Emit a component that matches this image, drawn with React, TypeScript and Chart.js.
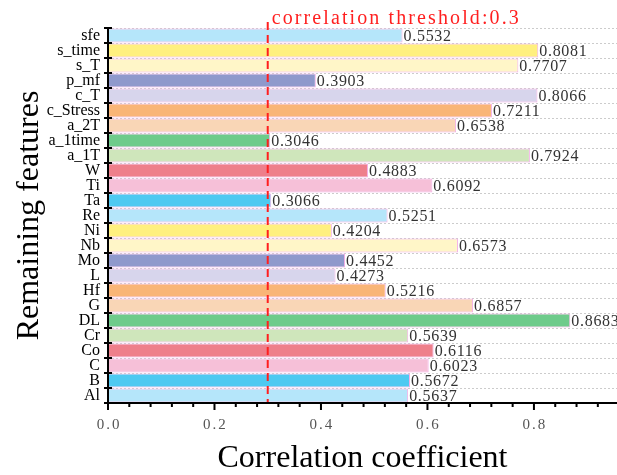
import React, { useEffect, useRef } from "react";
import { Chart, registerables } from "chart.js";

Chart.register(...registerables);

const FEATURES = [
  "sfe", "s_time", "s_T", "p_mf", "c_T", "c_Stress", "a_2T", "a_1time", "a_1T",
  "W", "Ti", "Ta", "Re", "Ni", "Nb", "Mo", "L", "Hf", "G", "DL", "Cr", "Co", "C", "B", "Al",
];
const CORRELATIONS = [
  0.5532, 0.8081, 0.7707, 0.3903, 0.8066, 0.7211, 0.6538, 0.3046, 0.7924,
  0.4883, 0.6092, 0.3066, 0.5251, 0.4204, 0.6573, 0.4452, 0.4273, 0.5216, 0.6857, 0.8683,
  0.5639, 0.6116, 0.6023, 0.5672, 0.5637,
];
const BAR_COLORS = [
  "#b5e6fa", "#fff07f", "#fff6c8", "#8f99cc", "#d7d5ec", "#f9b577", "#f9d6b6", "#6ecb8b", "#cfe6bb",
  "#ee7f8b", "#f6c0d8", "#4ec9f1", "#b5e6fa", "#fff07f", "#fff6c8", "#8f99cc", "#d7d5ec", "#f9b577",
  "#f9d6b6", "#6ecb8b", "#cfe6bb", "#ee7f8b", "#f6c0d8", "#4ec9f1", "#b5e6fa",
];
const X_TICKS = [0, 0.2, 0.4, 0.6, 0.8];
const X_MINOR_STEP = 0.04;
const THRESHOLD = 0.3;
const THRESHOLD_TEXT = "correlation threshold:0.3";
const X_MAX = 0.956;

function drawText(
  ctx: CanvasRenderingContext2D,
  text: string,
  x: number,
  y: number,
  size: number,
  spacing: number,
  align: CanvasTextAlign,
  color: string
) {
  ctx.save();
  ctx.font = `${size}px "Liberation Serif"`;
  (ctx as any).letterSpacing = `${spacing}px`;
  ctx.textAlign = "left";
  ctx.textBaseline = "middle";
  ctx.fillStyle = color;
  let w = ctx.measureText(text).width - spacing;
  let sx = x;
  if (align === "center") sx = x - w / 2;
  else if (align === "right") sx = x - w;
  ctx.fillText(text, sx, y);
  ctx.restore();
}

const overlay = {
  id: "overlay",
  afterDatasetsDraw(chart: any) {
    const { ctx, chartArea, scales } = chart;
    const { left, right, top, bottom } = chartArea;
    const xs = scales.x;
    const ys = scales.y;
    ctx.save();

    // threshold line
    const tx = xs.getPixelForValue(THRESHOLD);
    ctx.strokeStyle = "#ff1f1f";
    ctx.lineWidth = 2;
    ctx.setLineDash([8, 5]);
    ctx.beginPath();
    ctx.moveTo(tx, 22);
    ctx.lineTo(tx, bottom);
    ctx.stroke();
    ctx.setLineDash([]);
    drawText(ctx, THRESHOLD_TEXT, tx + 4, 19, 20, 2.1, "left", "#ff1f1f");

    // value labels
    const meta = chart.getDatasetMeta(0);
    meta.data.forEach((bar: any, i: number) => {
      drawText(ctx, CORRELATIONS[i].toFixed(4), bar.x + 1, bar.y + 1, 16, 0.7, "left", "#333333");
    });

    // axes lines
    ctx.strokeStyle = "#000";
    ctx.lineWidth = 2;
    ctx.beginPath();
    ctx.moveTo(left, top);
    ctx.lineTo(left, bottom + 1);
    ctx.moveTo(left - 1, bottom);
    ctx.lineTo(right, bottom);
    ctx.stroke();

    // y ticks at category boundaries
    const p0 = ys.getPixelForValue(0);
    const step = ys.getPixelForValue(1) - p0;
    ctx.beginPath();
    for (let k = 0; k <= FEATURES.length; k++) {
      const yy = p0 - step / 2 + k * step;
      ctx.moveTo(left - 4, yy);
      ctx.lineTo(left + 4, yy);
    }
    ctx.stroke();

    // x ticks
    ctx.beginPath();
    const nMinor = Math.floor(X_MAX / X_MINOR_STEP + 1e-6);
    for (let k = 0; k <= nMinor; k++) {
      const v = k * X_MINOR_STEP;
      const px = xs.getPixelForValue(v);
      const major = k % 5 === 0;
      ctx.moveTo(px, bottom);
      ctx.lineTo(px, bottom + (major ? 7 : 4));
    }
    ctx.stroke();

    // x tick labels
    X_TICKS.forEach((v) => {
      drawText(ctx, v.toFixed(1), xs.getPixelForValue(v), 425, 15, 2, "center", "#555555");
    });

    ctx.restore();
  },
};

export default function App() {
  const ref = useRef<HTMLCanvasElement | null>(null);

  useEffect(() => {
    if (!ref.current) return;
    const chart = new Chart(ref.current, {
      type: "bar",
      data: {
        labels: FEATURES,
        datasets: [
          {
            data: CORRELATIONS,
            backgroundColor: BAR_COLORS,
            borderColor: "#f3aee6",
            borderWidth: 1,
            barPercentage: 0.93,
            categoryPercentage: 1,
          },
        ],
      },
      options: {
        indexAxis: "y",
        responsive: false,
        animation: false,
        layout: { padding: { top: 28, right: 0, left: 0, bottom: 0 } },
        plugins: { legend: { display: false }, tooltip: { enabled: false } },
        scales: {
          x: {
            type: "linear",
            min: 0,
            max: X_MAX,
            grid: { display: false },
            border: { display: false },
            ticks: { display: false },
            afterFit: (s: any) => {
              s.height = 72;
            },
            title: {
              display: true,
              text: "Correlation coefficient",
              color: "#000",
              font: { family: "Liberation Serif", size: 32, lineHeight: 1 },
              padding: { top: 0, bottom: 0 },
            },
          },
          y: {
            grid: { display: true, drawTicks: false, color: "#cccccc", lineWidth: 1, offset: true },
            border: { display: false, dash: [2, 2] },
            ticks: {
              autoSkip: false,
              padding: 8,
              color: "#000",
              font: { family: "Liberation Serif", size: 16 },
            },
            afterFit: (s: any) => {
              s.width = 108;
            },
            title: {
              display: true,
              text: "Remaining features",
              color: "#000",
              font: { family: "Liberation Serif", size: 32, lineHeight: 1 },
              padding: { top: 14, bottom: 0 },
            },
          },
        },
      } as any,
      plugins: [overlay],
    });
    return () => chart.destroy();
  }, []);

  return (
    <div style={{ position: "fixed", left: 0, top: 0, width: 617, height: 475, background: "#fff" }}>
      <canvas ref={ref} width={617} height={475} style={{ display: "block" }} />
    </div>
  );
}
